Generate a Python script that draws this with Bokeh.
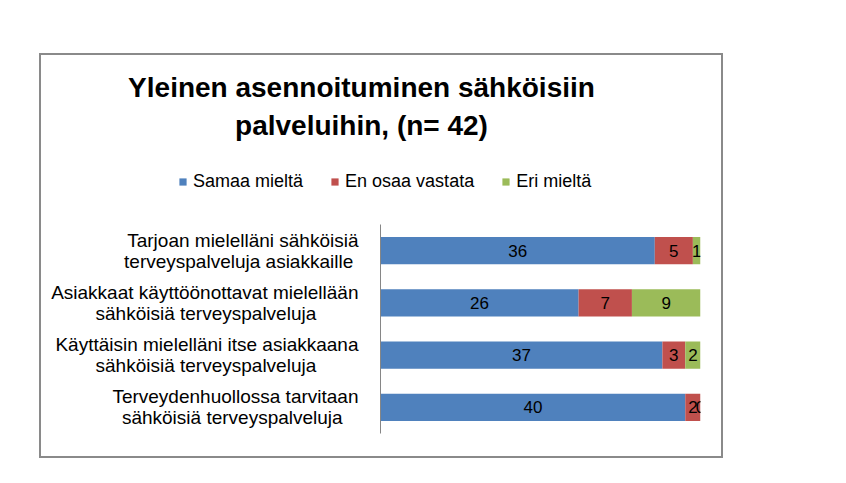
from bokeh.plotting import figure
from bokeh.models import FactorRange, Range1d, ColumnDataSource, Legend, LegendItem, Label
from bokeh.layouts import column
from bokeh.embed import file_html
from bokeh.resources import INLINE
from bokeh.core.properties import value

categories = [
    "Tarjoan mielelläni sähköisiä\nterveyspalveluja asiakkaille",
    "Asiakkaat käyttöönottavat mielellään\nsähköisiä terveyspalveluja",
    "Käyttäisin mielelläni itse asiakkaana\nsähköisiä terveyspalveluja",
    "Terveydenhuollossa tarvitaan\nsähköisiä terveyspalveluja",
]
series_names = ["Samaa mieltä", "En osaa vastata", "Eri mieltä"]
samaa_mielta = [36, 26, 37, 40]
en_osaa_vastata = [5, 7, 3, 2]
eri_mielta = [1, 9, 2, 0]
n_total = 42
title_lines = ["Yleinen asennoituminen sähköisiin", "palveluihin, (n= 42)"]

colors = ["#4F81BD", "#C0504D", "#9BBB59"]
FONT = "Liberation Sans"
W = 680
HEAD_H = 169
BODY_H = 232
# trailing no-break spaces so that the shorter 2nd line sits centred under the 1st
label_pad = [1, 8, 8, 3]
tick_labels = [c + "\u00a0" * n for c, n in zip(categories, label_pad)]

# ---------- header: title + legend ----------
head = figure(width=W, height=HEAD_H, x_range=Range1d(0, W), y_range=Range1d(0, HEAD_H),
              output_backend="svg", toolbar_location=None,
              min_border_left=0, min_border_right=0, min_border_top=0, min_border_bottom=0)
head.frame_align = False
head.axis.visible = False
head.grid.visible = False
head.outline_line_color = None

for i, t in enumerate(title_lines):
    head.add_layout(Label(x=320, y=137 - 38 * i, text=t, text_align="center", text_baseline="middle",
                          text_font=FONT, text_font_size="28px", text_font_style="bold",
                          text_color="#000000"))

# zero-size swatch renderers, only used for the legend keys
swatches = [head.hbar(y=[0], left=[0], right=[0], height=0, color=c, line_color=None) for c in colors]
legend = Legend(
    items=[LegendItem(label=n, renderers=[r]) for n, r in zip(series_names, swatches)],
    orientation="horizontal", location=(137, 32),
    border_line_color=None, background_fill_alpha=0,
    glyph_width=9, glyph_height=9, label_standoff=6, spacing=27, padding=0, margin=0,
    label_height=20,
    label_text_font=FONT, label_text_font_size="18px", label_text_color="#000000",
)
head.add_layout(legend, "center")

# ---------- body: stacked bars ----------
series = [samaa_mielta, en_osaa_vastata, eri_mielta]
keys = ["s0", "s1", "s2"]
data = {"cat": tick_labels}
for k, v in zip(keys, series):
    data[k] = v
src = ColumnDataSource(data)

p = figure(
    width=W, height=BODY_H,
    x_range=Range1d(0, n_total),
    y_range=FactorRange(factors=list(reversed(tick_labels))),
    output_backend="svg", toolbar_location=None,
    min_border_left=339, min_border_right=21,
    min_border_top=0, min_border_bottom=23,
)
p.frame_align = False
p.outline_line_color = None
p.xgrid.visible = False
p.ygrid.visible = False
p.xaxis.visible = False
p.yaxis.major_tick_line_color = None
p.yaxis.minor_tick_line_color = None
p.yaxis.axis_line_color = "#868686"
p.yaxis.major_label_text_font = FONT
p.yaxis.major_label_text_font_size = "19px"
p.yaxis.major_label_text_line_height = 1.0
p.yaxis.major_label_text_color = "#000000"
p.yaxis.major_label_standoff = 16

p.hbar_stack(keys, y="cat", height=0.52, color=colors, line_color=None, source=src)

lx, ly, lt = [], [], []
for i, c in enumerate(tick_labels):
    left = 0
    for v in series:
        lx.append(left + v[i] / 2)
        ly.append(c)
        lt.append(str(v[i]))
        left += v[i]
p.text(x=lx, y=ly, text=lt, text_align="center", text_baseline="middle",
       text_font=value(FONT), text_font_size="17px", text_color="#000000")

layout = column(head, p, spacing=0)
layout.margin = (53, 0, 0, 39)
layout.styles = {"border": "2px solid #8a8a8a"}

open("out.html", "w").write(file_html(layout, INLINE))
